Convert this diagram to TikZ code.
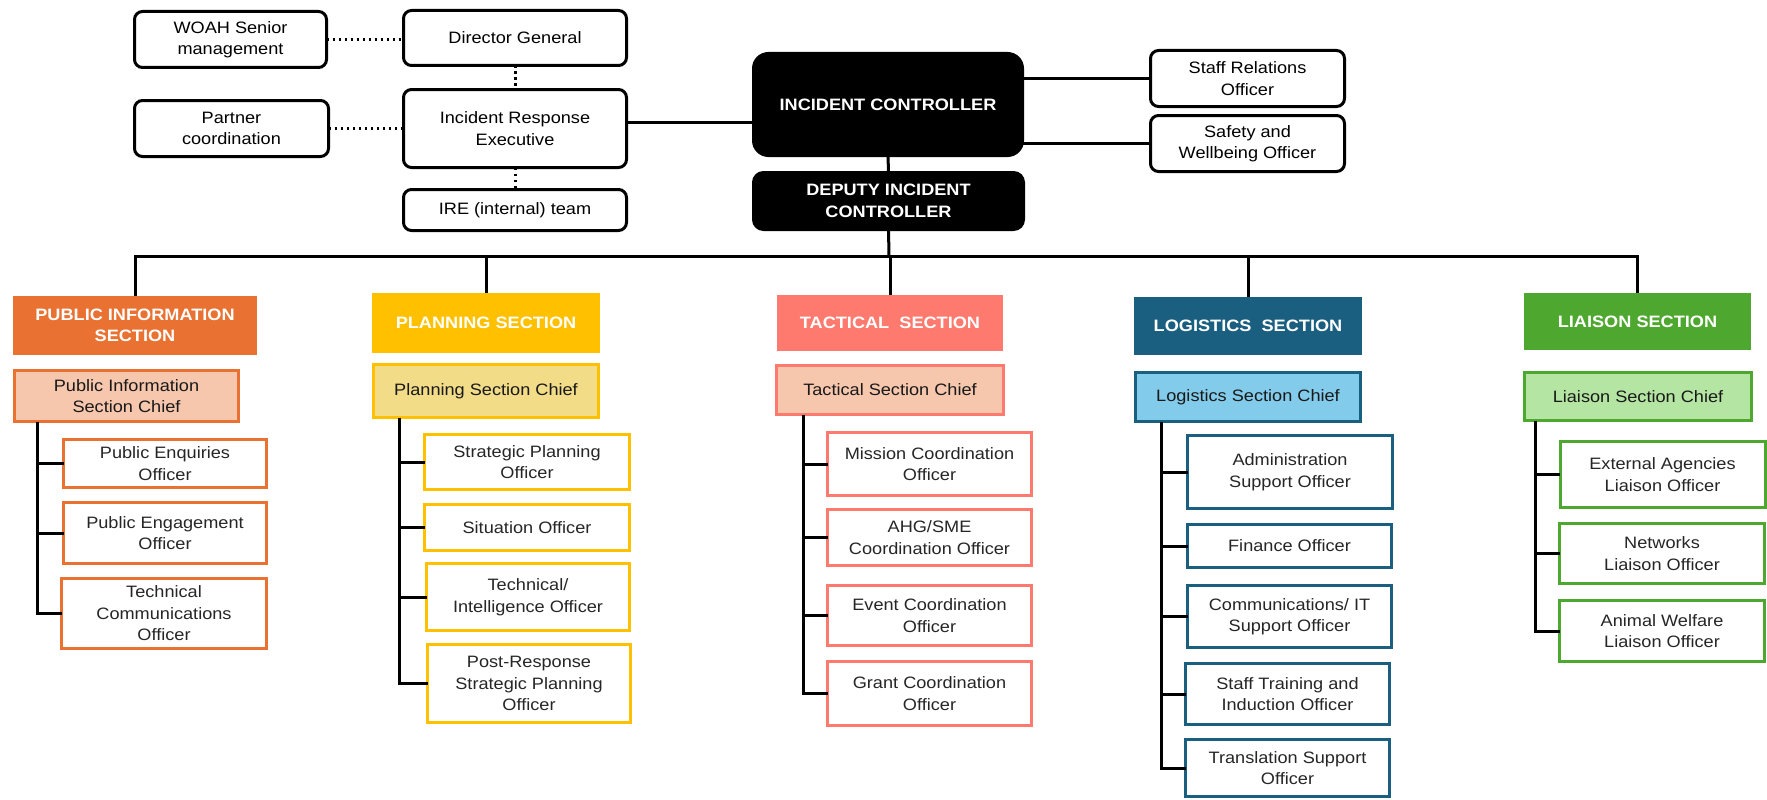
\documentclass[tikz,border=0pt]{standalone}
\usepackage{fontspec}
\setmainfont{Liberation Sans}[FakeStretch=1.1]

\definecolor{pisOrange}{HTML}{E97132}
\definecolor{pisLight}{HTML}{F6C6AD}
\definecolor{plnGold}{HTML}{FFC000}
\definecolor{plnLight}{HTML}{F2DC88}
\definecolor{tacRed}{HTML}{FF7A6E}
\definecolor{tacLight}{HTML}{F6C6AD}
\definecolor{logBlue}{HTML}{1A5F80}
\definecolor{logLight}{HTML}{83CBEB}
\definecolor{liaGreen}{HTML}{4EA72E}
\definecolor{liaLight}{HTML}{B4E5A2}

\newcommand{\boxfont}{\fontsize{16.5}{21.5}\selectfont}

\tikzset{
	size/.style 2 args={minimum width=#1pt, minimum height=#2pt},
	topbox/.style={draw, line width=3pt, rounded corners=8pt, fill=white},
	blackbox/.style={draw, line width=3pt, fill=black, text=white, font=\boxfont\bfseries},
	head/.style={fill=#1, text=white, font=\boxfont\bfseries},
	chief/.style={draw=#1, line width=3pt, text=black!90},
	officer/.style={draw=#1, line width=3pt, fill=white, text=black!85},
	link/.style={line width=3pt},
	dotlink/.style={line width=3pt, dash pattern=on 2.5pt off 3.5pt}
}

\begin{document}
\begin{tikzpicture}[x=1pt, y=-1pt,
	every node/.style={font=\boxfont, align=center, inner sep=0pt, outer sep=0pt}]

	\useasboundingbox (0,0) rectangle (1767,800);

% top boxes
	\node[topbox, size={192}{56}] (woah) at (230.5,39.5) {WOAH Senior\\management};
	\node[topbox, size={194}{56}] (partner) at (231.5,128.5) {Partner\\coordination};
	\node[topbox, size={223}{55}] (dg) at (515,38) {Director General};
	\node[topbox, size={223}{78}] (ire) at (515,128.5) {Incident Response\\Executive};
	\node[topbox, size={223}{41}] (ireteam) at (515,210) {IRE (internal) team};

	\node[blackbox, rounded corners=15pt, size={269}{102}] (ic) at (888,104.5) {INCIDENT CONTROLLER};
	\node[blackbox, rounded corners=10pt, size={270}{57}] (dic) at (888.5,201) {DEPUTY INCIDENT\\CONTROLLER};

	\node[topbox, size={194}{56}] (sro) at (1247.5,78.5) {Staff Relations\\Officer};
	\node[topbox, size={194}{56}] (swo) at (1247.5,143.5) {Safety and\\Wellbeing Officer};

% top links
	\draw[dotlink] (woah.east) -- (woah.east -| dg.west);
	\draw[dotlink] (partner.east) -- (partner.east -| ire.west);
	\draw[dotlink] (dg.south) -- (ire.north);
	\draw[dotlink] (ire.south) -- (ireteam.north);
	\draw[link] ([yshift=6.5pt]ire.east) -- ([yshift=6.5pt]ire.east -| ic.west);
	\draw[link] (sro.west) -- (sro.west -| ic.east);
	\draw[link] (swo.west) -- (swo.west -| ic.east);
	\draw[link] (ic.south) -- (dic.north);

% section heads
	\node[head=pisOrange, size={244}{59}] (pis) at (135,325.5) {PUBLIC INFORMATION\\SECTION};
	\node[head=plnGold, size={228}{60}] (pln) at (486,323) {PLANNING SECTION};
	\node[head=tacRed, size={226}{56}] (tac) at (890,323) {TACTICAL\ \ SECTION};
	\node[head=logBlue, size={228}{58}] (log) at (1248,326) {LOGISTICS\ \ SECTION};
	\node[head=liaGreen, size={227}{57}] (lia) at (1637.5,321.5) {LIAISON SECTION};

% bus
	\coordinate (bus) at (889,256);
	\draw[link] (dic.south) -- (bus);
	\draw[link] (pis.north) |- (bus);
	\draw[link] (lia.north) |- (bus);
	\foreach \s in {pln,tac,log}
		\draw[link] (\s.north) -- (\s.north |- bus);

% public information
	\node[chief=pisOrange, fill=pisLight, size={224}{51}] (pisC) at (126.5,396) {Public Information\\Section Chief};
	\node[officer=pisOrange, size={203}{48}] (pis1) at (165,463.5) {Public Enquiries\\Officer};
	\node[officer=pisOrange, size={203}{61}] (pis2) at (165,533) {Public Engagement\\Officer};
	\node[officer=pisOrange, size={205}{70}] (pis3) at (164,613.5) {Technical\\Communications\\Officer};

% planning
	\node[chief=plnGold, fill=plnLight, size={225}{53}] (plnC) at (486,391) {Planning Section Chief};
	\node[officer=plnGold, size={205}{55}] (pln1) at (527,462) {Strategic Planning\\Officer};
	\node[officer=plnGold, size={205}{46}] (pln2) at (527,527.5) {Situation Officer};
	\node[officer=plnGold, size={203}{67}] (pln3) at (528,597) {Technical/\\Intelligence Officer};
	\node[officer=plnGold, size={203}{78}] (pln4) at (529,683.5) {Post-Response\\Strategic Planning\\Officer};

% tactical
	\node[chief=tacRed, fill=tacLight, size={227}{49}] (tacC) at (890,390) {Tactical Section Chief};
	\node[officer=tacRed, size={204}{63}] (tac1) at (929.5,464) {Mission Coordination\\Officer};
	\node[officer=tacRed, size={204}{56}] (tac2) at (929.5,537.5) {AHG/SME\\Coordination Officer};
	\node[officer=tacRed, size={204}{60}] (tac3) at (929.5,615.5) {Event Coordination\\Officer};
	\node[officer=tacRed, size={204}{64}] (tac4) at (929.5,693.5) {Grant Coordination\\Officer};

% logistics
	\node[chief=logBlue, fill=logLight, size={225}{49}] (logC) at (1248,397) {Logistics Section Chief};
	\node[officer=logBlue, size={205}{73}] (log1) at (1290,472) {Administration\\Support Officer};
	\node[officer=logBlue, size={204}{43}] (log2) at (1289.5,546) {Finance Officer};
	\node[officer=logBlue, size={204}{62}] (log3) at (1289.5,616.5) {Communications/ IT\\Support Officer};
	\node[officer=logBlue, size={204}{61}] (log4) at (1287.5,694) {Staff Training and\\Induction Officer};
	\node[officer=logBlue, size={204}{57}] (log5) at (1287.5,768) {Translation Support\\Officer};

% liaison
	\node[chief=liaGreen, fill=liaLight, size={227}{48}] (liaC) at (1638,396.5) {Liaison Section Chief};
	\node[officer=liaGreen, size={205}{66}] (lia1) at (1662.5,474.5) {External Agencies\\Liaison Officer};
	\node[officer=liaGreen, size={205}{60}] (lia2) at (1662,553.5) {Networks\\Liaison Officer};
	\node[officer=liaGreen, size={205}{61}] (lia3) at (1662,631) {Animal Welfare\\Liaison Officer};

% trunks and branches
	\coordinate (pisT) at ([xshift=22.5pt]pisC.south west);
	\draw[link] (pisT) |- (pis3.west);
	\foreach \o in {pis1,pis2}
		\draw[link] (\o.west) -- (\o.west -| pisT);

	\coordinate (plnT) at ([xshift=25.5pt]plnC.south west);
	\draw[link] (plnT) |- (pln4.west);
	\foreach \o in {pln1,pln2,pln3}
		\draw[link] (\o.west) -- (\o.west -| plnT);

	\coordinate (tacT) at ([xshift=26.5pt]tacC.south west);
	\draw[link] (tacT) |- (tac4.west);
	\foreach \o in {tac1,tac2,tac3}
		\draw[link] (\o.west) -- (\o.west -| tacT);

	\coordinate (logT) at ([xshift=25.5pt]logC.south west);
	\draw[link] (logT) |- (log5.west);
	\foreach \o in {log1,log2,log3,log4}
		\draw[link] (\o.west) -- (\o.west -| logT);

	\coordinate (liaT) at ([xshift=10.5pt]liaC.south west);
	\draw[link] (liaT) |- (lia3.west);
	\foreach \o in {lia1,lia2}
		\draw[link] (\o.west) -- (\o.west -| liaT);

\end{tikzpicture}
\end{document}
